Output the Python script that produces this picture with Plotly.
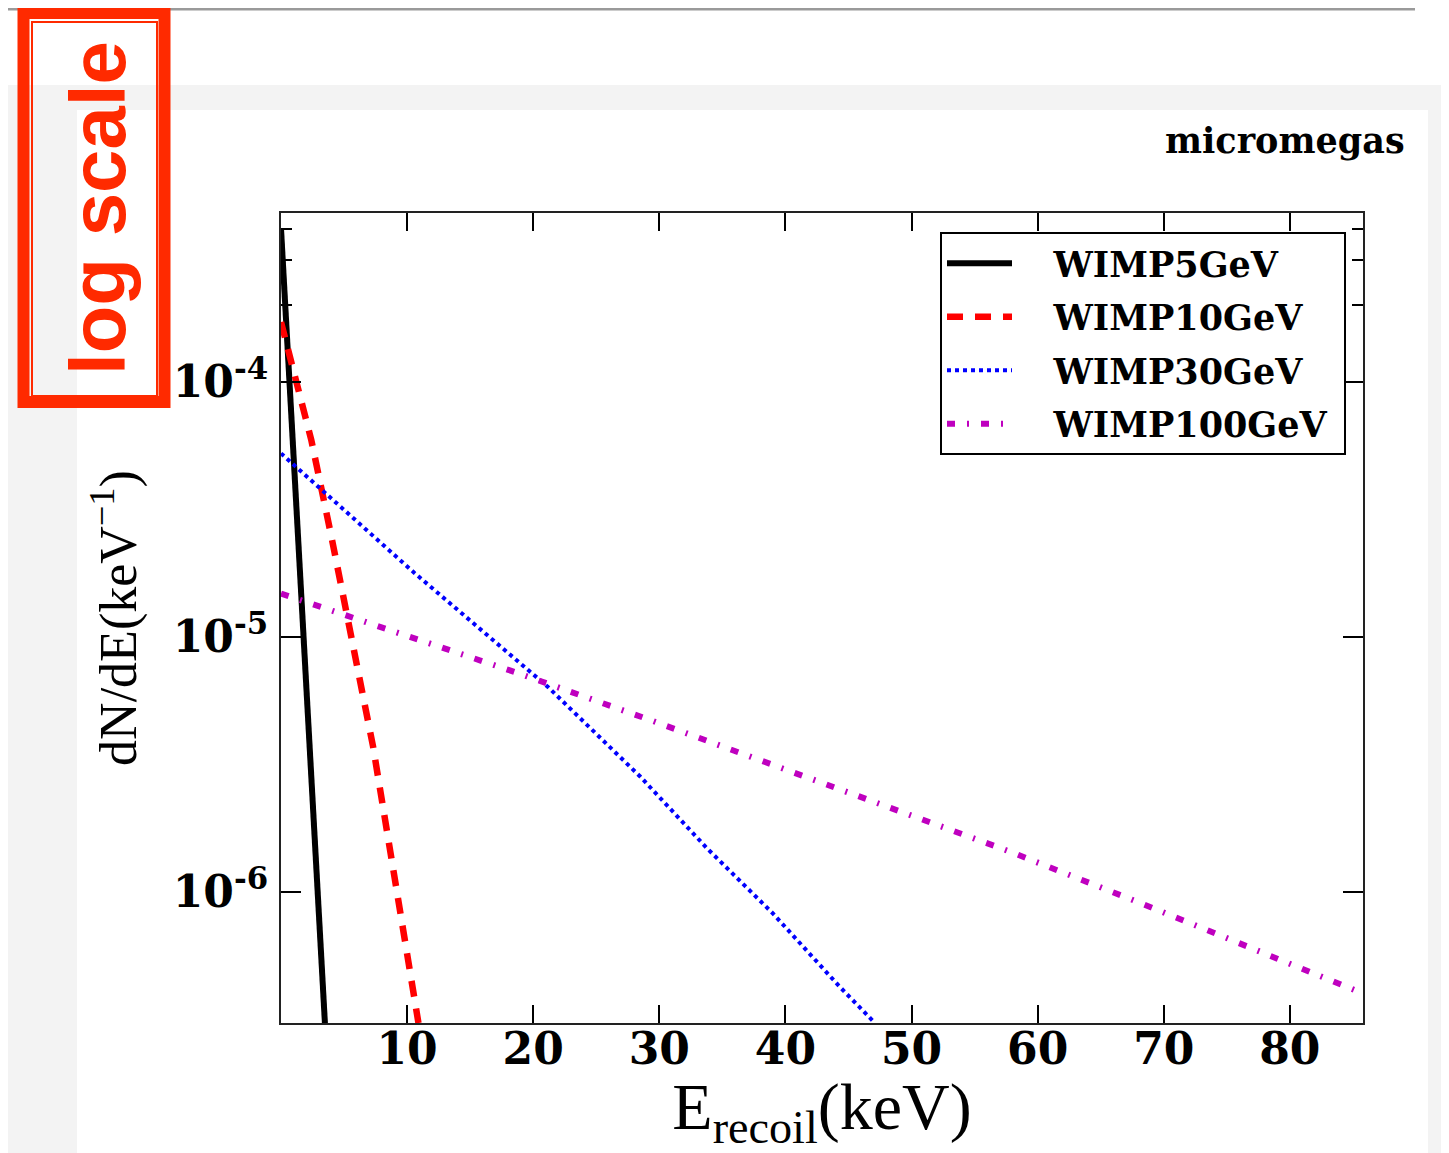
import plotly.graph_objects as go

# ---------------- data ----------------
series_names = ["WIMP5GeV", "WIMP10GeV", "WIMP30GeV", "WIMP100GeV"]

wimp5_x = [0.0, 1.75, 3.5]
wimp5_y = [4.0e-4, 1.09e-5, 2.95e-7]

wimp10_x = [0.0, 2.4, 4.0, 5.3, 6.35, 7.3, 10.9]
wimp10_y = [1.72e-4, 5.93e-5, 2.47e-5, 1.20e-5, 6.38e-6, 3.72e-6, 3.06e-7]

wimp30_x = [0.0, 10.6, 21.15, 28.5, 33.8, 39.0, 44.3, 47.1]
wimp30_y = [5.25e-5, 1.78e-5, 6.38e-6, 2.83e-6, 1.48e-6, 8.24e-7, 4.25e-7, 3.06e-7]

wimp100_x = [0.0, 10.7, 18.6, 29.1, 39.6, 50.1, 57.8, 68.2, 78.6, 85.3]
wimp100_y = [1.48e-5, 9.8e-6, 7.27e-6, 4.76e-6, 3.08e-6, 1.99e-6, 1.44e-6, 9.03e-7, 5.61e-7, 4.09e-7]

x_tick_vals = [10, 20, 30, 40, 50, 60, 70, 80]
x_tick_text = ["10", "20", "30", "40", "50", "60", "70", "80"]
y_tick_vals = [1e-6, 1e-5, 1e-4]
y_tick_text = ["10<sup>-6</sup>", "10<sup>-5</sup>", "10<sup>-4</sup>"]
y_minor_vals = [2e-4, 3e-4, 4e-4]

x_range = [0.0, 85.8]
y_log_range = [-6.514, -3.337]

# ---------------- layout geometry (page pixels) ----------------
OFF = 8                      # default body margin of the html page
PW, PH = 1449, 1153          # page size
W, H = PW - OFF, PH - OFF    # figure size
L, R, T, B = 281, 1363, 213, 1023   # plot area in page pixels


def px(x):
    return (x - L) / (R - L)


def py(y):
    return (B - y) / (B - T)


RED = "#ff2a00"
SERIF = "DejaVu Serif"
LABEL_SERIF = "Liberation Serif"
PAD = "\u00a0\u00a0\u00a0"
TAIL = "\u00a0"

fig = go.Figure()

styles = [
    dict(color="black", width=6, dash="solid"),
    dict(color="#ff0000", width=6.5, dash="16px,12px"),
    dict(color="#0000ff", width=4, dash="4px,4px"),
    dict(color="#bf00bf", width=6, dash="8px,12px,2px,12px"),
]
xs = [wimp5_x, wimp10_x, wimp30_x, wimp100_x]
ys = [wimp5_y, wimp10_y, wimp30_y, wimp100_y]

for i, (name, xv, yv, st) in enumerate(zip(series_names, xs, ys, styles)):
    fig.add_trace(go.Scatter(
        x=xv, y=yv, mode="lines", name=PAD + name + TAIL, line=st,
        legendgroup=f"g{i}",
    ))

shapes = [
    # page background / paper sheet
    dict(type="rect", xref="paper", yref="paper", x0=px(0), x1=px(PW), y0=py(85), y1=py(PH + 10),
         fillcolor="#f3f3f3", line=dict(width=0), layer="below"),
    dict(type="rect", xref="paper", yref="paper", x0=px(77), x1=px(1428), y0=py(110), y1=py(PH + 10),
         fillcolor="white", line=dict(width=0), layer="below"),
    # top gray rule
    dict(type="line", xref="paper", yref="paper", x0=px(0), x1=px(1415), y0=py(9), y1=py(9),
         line=dict(color="#9a9a9a", width=3), layer="below"),
    # red hand-drawn box
    dict(type="rect", xref="paper", yref="paper", x0=px(23.5), x1=px(164.5), y0=py(13), y1=py(402),
         line=dict(color=RED, width=12), fillcolor="rgba(0,0,0,0)", layer="above"),
    dict(type="rect", xref="paper", yref="paper", x0=px(32), x1=px(157), y0=py(22), y1=py(396),
         line=dict(color=RED, width=2), fillcolor="rgba(0,0,0,0)", layer="above"),
]

annotations = [
    dict(text="log scale", xref="paper", yref="paper", x=px(98), y=py(208),
         xanchor="center", yanchor="middle", textangle=-90, showarrow=False,
         font=dict(family="Liberation Sans", size=78, color=RED, weight="bold")),
    dict(text="micromegas", xref="paper", yref="paper", x=px(1407), y=py(140),
         xanchor="right", yanchor="middle", showarrow=False,
         font=dict(family=SERIF, size=35, color="black", weight="bold")),
]

fig.update_layout(
    width=W, height=H,
    margin=dict(l=L - OFF, r=W - (R - OFF), t=T - OFF, b=H - (B - OFF), pad=0),
    paper_bgcolor="white", plot_bgcolor="white",
    shapes=shapes, annotations=annotations,
    showlegend=True,
    legend=dict(
        x=px(1346), y=py(232), xanchor="right", yanchor="top",
        bgcolor="white", bordercolor="black", borderwidth=2,
        font=dict(family=SERIF, size=35, color="black", weight="bold"),
        itemwidth=65, tracegroupgap=5,
    ),
    xaxis=dict(
        range=x_range, tickmode="array", tickvals=x_tick_vals, ticktext=x_tick_text,
        ticks="inside", ticklen=18, tickwidth=1.5, tickcolor="black",
        showline=True, linecolor="#222", linewidth=2, mirror="allticks",
        showgrid=False, zeroline=False,
        tickfont=dict(family=SERIF, size=44, color="black", weight="bold"),
        ticklabelstandoff=-14,
        title=dict(text="E<sub>recoil</sub>(keV)", standoff=22,
                   font=dict(family=LABEL_SERIF, size=66, color="black")),
    ),
    yaxis=dict(
        type="log", range=y_log_range, tickmode="array", tickvals=y_tick_vals, ticktext=y_tick_text,
        ticks="inside", ticklen=20, tickwidth=1.5, tickcolor="black",
        showline=True, linecolor="#222", linewidth=2, mirror="allticks",
        showgrid=False, zeroline=False,
        minor=dict(tickmode="array", tickvals=y_minor_vals, ticks="inside", ticklen=11,
                   tickwidth=1.5, tickcolor="black", showgrid=False),
        tickfont=dict(family=SERIF, size=44, color="black", weight="bold"),
        ticklabelstandoff=2,
        title=dict(text="dN/dE(keV<sup>\u22121</sup>)", standoff=20,
                   font=dict(family=LABEL_SERIF, size=52, color="black")),
    ),
)

fig.write_html("out.html")
